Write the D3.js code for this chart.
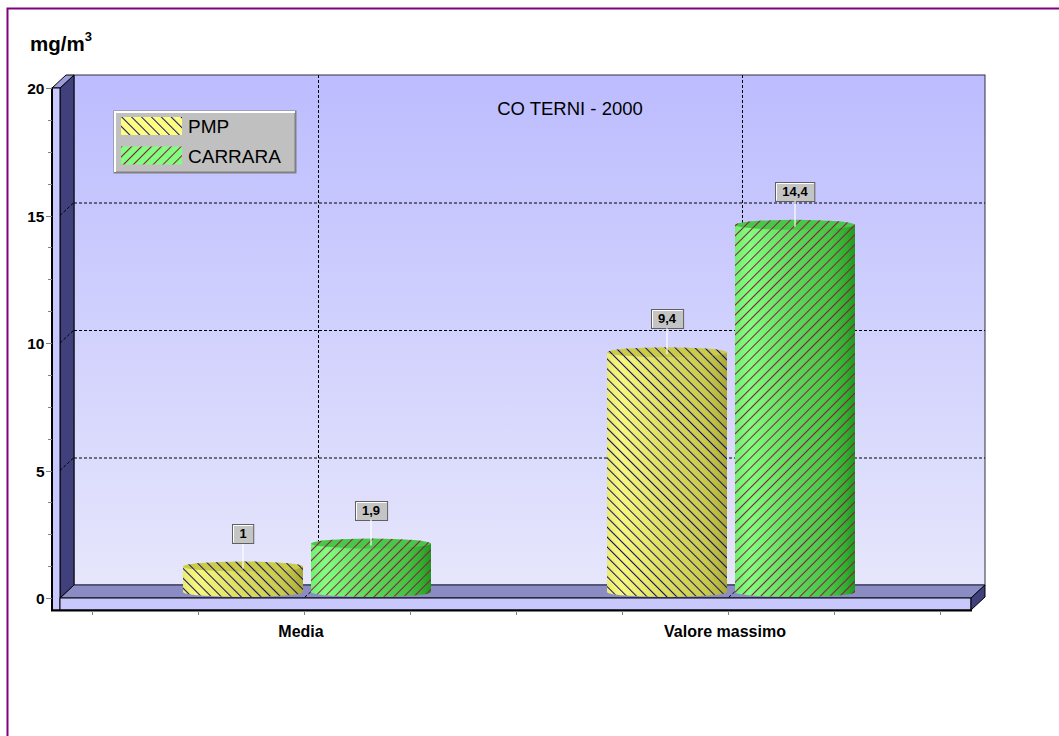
<!DOCTYPE html>
<html>
<head>
<meta charset="utf-8">
<script src="https://cdn.jsdelivr.net/npm/d3@7/dist/d3.min.js"></script>
<style>
  body { margin: 0; background: #fff; }
  svg { display: block; font-family: Arial, "Liberation Sans", sans-serif; }
</style>
</head>
<body>
<svg width="1059" height="736"></svg>
<script>
// data
var categories = ["Media", "Valore massimo"];
var seriesNames = ["PMP", "CARRARA"];
var pmpValues = [1, 9.4];
var carraraValues = [1.9, 14.4];
var yTicks = [0, 5, 10, 15, 20];
var chartTitle = "CO TERNI - 2000";

var svg = d3.select("svg");
var defs = svg.append("defs");

// 3d frame geometry
var axisX = 52, wallX = 60, plotR = 971;
var dx = 14, dy = -13;
var barDx = 3, barDy = -6, ry = 5;

var y = d3.scaleLinear().domain([0, 20]).range([598, 88]);
var x = d3.scaleBand().domain(categories).range([92, 940]);
var xs = d3.scaleBand().domain(seriesNames).range([0, 248]).paddingInner(0.0625);

var locale = d3.formatLocale({ decimal: ",", thousands: ".", grouping: [3], currency: ["", ""] });
var fmt = locale.format("~g");

var series = [
  { name: "PMP", values: pmpValues, grad: "gYellow", top: "#cccc48", hatch: "hYellow", swatch: "#ffff80" },
  { name: "CARRARA", values: carraraValues, grad: "gGreen", top: "#48c848", hatch: "hGreen", swatch: "#80ff80" }
];

// gradients
var wallGrad = defs.append("linearGradient").attr("id", "gWall")
  .attr("x1", 0).attr("y1", 0).attr("x2", 0).attr("y2", 1);
wallGrad.append("stop").attr("offset", "0%").attr("stop-color", "#bcbcff");
wallGrad.append("stop").attr("offset", "100%").attr("stop-color", "#e6e6fc");

function hGrad(id, stops) {
  var g = defs.append("linearGradient").attr("id", id)
    .attr("x1", 0).attr("y1", 0).attr("x2", 1).attr("y2", 0);
  stops.forEach(function (s) {
    g.append("stop").attr("offset", s[0]).attr("stop-color", s[1]);
  });
}
hGrad("gYellow", [["0%", "#ecec70"], ["12%", "#f8f87c"], ["45%", "#e0e060"], ["80%", "#cccc4c"], ["92%", "#bcbc40"], ["100%", "#a8a830"]]);
hGrad("gGreen", [["0%", "#70f070"], ["12%", "#80ff80"], ["45%", "#60dc60"], ["80%", "#44c444"], ["92%", "#30b030"], ["100%", "#209820"]]);

function hatch(id, color, angle) {
  var p = defs.append("pattern").attr("id", id)
    .attr("patternUnits", "userSpaceOnUse")
    .attr("width", 7).attr("height", 7)
    .attr("patternTransform", "rotate(" + angle + ")");
  p.append("line").attr("x1", 0.5).attr("y1", 0).attr("x2", 0.5).attr("y2", 7)
    .attr("stroke", color).attr("stroke-width", 1.1);
}
hatch("hYellow", "#101070", -45);
hatch("hGreen", "#901840", 45);

// outer border
svg.append("rect").attr("x", 7.5).attr("y", 8.5).attr("width", 1080).attr("height", 760)
  .attr("fill", "none").attr("stroke", "#800080").attr("stroke-width", 2);

// back wall
var backL = wallX + dx, backR = plotR + dx, backT = y(20) + dy, backB = y(0) + dy;
svg.append("rect").attr("x", backL).attr("y", backT)
  .attr("width", backR - backL).attr("height", backB - backT)
  .attr("fill", "url(#gWall)").attr("stroke", "#303040");

var grid = svg.append("g").attr("stroke", "#000").attr("stroke-dasharray", "3,2").attr("stroke-width", 1);
grid.selectAll(".hg").data(yTicks.filter(function (d) { return d > 0 && d < 20; }))
  .enter().append("line")
  .attr("x1", backL).attr("x2", backR)
  .attr("y1", function (d) { return y(d) + dy + 0.5; })
  .attr("y2", function (d) { return y(d) + dy + 0.5; });
grid.selectAll(".vg").data(categories).enter().append("line")
  .attr("x1", function (d) { return x(d) + x.bandwidth() / 2 + dx + 0.5; })
  .attr("x2", function (d) { return x(d) + x.bandwidth() / 2 + dx + 0.5; })
  .attr("y1", backT).attr("y2", backB);

// floor top
svg.append("polygon")
  .attr("points", [[wallX, y(0)], [backL, backB], [backR, backB], [plotR, y(0)]].join(" "))
  .attr("fill", "#8c8cc4").attr("stroke", "#202040");
svg.append("g").attr("stroke", "#000").attr("stroke-dasharray", "3,2")
  .selectAll("line").data(categories).enter().append("line")
  .attr("x1", function (d) { return x(d) + x.bandwidth() / 2 + dx; })
  .attr("y1", backB)
  .attr("x2", function (d) { return x(d) + x.bandwidth() / 2; })
  .attr("y2", y(0));

// left wall
svg.append("polygon")
  .attr("points", [[wallX, y(20)], [backL, backT], [backL, backB], [wallX, y(0)]].join(" "))
  .attr("fill", "#40407c").attr("stroke", "#000");
svg.append("polygon")
  .attr("points", [[axisX, y(20)], [axisX + dx, backT], [backL, backT], [wallX, y(20)]].join(" "))
  .attr("fill", "#9c9cdc").attr("stroke", "#000");
svg.append("g").attr("stroke", "#000").attr("stroke-dasharray", "3,2")
  .selectAll("line").data(yTicks.filter(function (d) { return d > 0 && d < 20; }))
  .enter().append("line")
  .attr("x1", wallX).attr("y1", function (d) { return y(d); })
  .attr("x2", backL).attr("y2", function (d) { return y(d) + dy; });
svg.append("rect").attr("x", axisX).attr("y", y(20)).attr("width", wallX - axisX).attr("height", y(0) + 12 - y(20))
  .attr("fill", "#c8c8ff").attr("stroke", "#000");

// floor front + right side
svg.append("rect").attr("x", wallX).attr("y", y(0)).attr("width", plotR - wallX).attr("height", 12)
  .attr("fill", "#c8c8fc").attr("stroke", "#000");
svg.append("polygon")
  .attr("points", [[plotR, y(0)], [backR, backB], [backR, backB + 12], [plotR, y(0) + 12]].join(" "))
  .attr("fill", "#40407c").attr("stroke", "#000");

// axis lines
svg.append("line").attr("x1", axisX).attr("x2", axisX).attr("y1", y(20)).attr("y2", y(0) + 13)
  .attr("stroke", "#000").attr("stroke-width", 2);
svg.append("line").attr("x1", axisX - 1).attr("x2", plotR + 1).attr("y1", y(0) + 12.5).attr("y2", y(0) + 12.5)
  .attr("stroke", "#000").attr("stroke-width", 2);

// y ticks
var minor = d3.range(0, 20.01, 1.25).filter(function (d) { return d % 5 !== 0; });
svg.append("g").selectAll("line").data(minor).enter().append("line")
  .attr("x1", axisX - 4).attr("x2", axisX)
  .attr("y1", function (d) { return Math.round(y(d)) + 0.5; })
  .attr("y2", function (d) { return Math.round(y(d)) + 0.5; })
  .attr("stroke", "#808080");
var yt = svg.append("g").selectAll("g").data(yTicks).enter().append("g")
  .attr("transform", function (d) { return "translate(0," + Math.round(y(d)) + ")"; });
yt.append("line").attr("x1", axisX - 6).attr("x2", axisX).attr("y1", 0.5).attr("y2", 0.5).attr("stroke", "#808080");
yt.append("text").attr("x", 44.5).attr("y", 6).attr("text-anchor", "end")
  .attr("font-size", 15.5).attr("font-weight", "bold").text(function (d) { return d; });

// x ticks
var xTickPos = [];
categories.forEach(function (c, i) {
  d3.range(i === 0 ? 0 : 1, 5).forEach(function (k) { xTickPos.push(x(c) + k * x.bandwidth() / 4); });
});
svg.append("g").selectAll("line").data(xTickPos).enter().append("line")
  .attr("x1", function (d) { return Math.round(d) + 0.5; })
  .attr("x2", function (d) { return Math.round(d) + 0.5; })
  .attr("y1", y(0) + 13).attr("y2", y(0) + 17).attr("stroke", "#808080");
svg.append("g").selectAll("text").data(categories).enter().append("text")
  .attr("x", function (d) { return x(d) + x.bandwidth() / 2 - 3; })
  .attr("y", 637).attr("text-anchor", "middle")
  .attr("font-size", 16).attr("font-weight", "bold").text(function (d) { return d; });

// cylinders
var bars = [];
series.forEach(function (s) {
  categories.forEach(function (c, i) {
    bars.push({ s: s, cat: c, v: s.values[i] });
  });
});
var bw = xs.bandwidth(), rx = bw / 2;
var barG = svg.append("g");
bars.forEach(function (b) {
  var left = x(b.cat) + x.bandwidth() / 2 - xs.range()[1] / 2 + barDx + xs(b.s.name);
  var right = left + bw;
  var bottom = y(0) + barDy, top = y(b.v) + barDy;
  b.cx = left + rx; b.top = top;
  var body = "M" + left + "," + top + "L" + left + "," + bottom +
    "A" + rx + "," + ry + " 0 0 0 " + right + "," + bottom +
    "L" + right + "," + top + "Z";
  barG.append("path").attr("d", body).attr("fill", "url(#" + b.s.grad + ")");
  barG.append("path").attr("d", body).attr("fill", "url(#" + b.s.hatch + ")");
  barG.append("ellipse").attr("cx", left + rx).attr("cy", top).attr("rx", rx).attr("ry", ry)
    .attr("fill", b.s.top);
  barG.append("ellipse").attr("cx", left + rx).attr("cy", top).attr("rx", rx).attr("ry", ry)
    .attr("fill", "url(#" + b.s.hatch + ")");
});

// value labels
var lab = svg.append("g");
bars.forEach(function (b) {
  var boxB = b.top - 24, boxH = 19;
  lab.append("line").attr("x1", b.cx).attr("x2", b.cx).attr("y1", boxB).attr("y2", b.top + 2)
    .attr("stroke", "#fff").attr("stroke-width", 1.2);
  var t = lab.append("text").attr("x", b.cx).attr("y", boxB - 5).attr("text-anchor", "middle")
    .attr("font-size", 13).attr("font-weight", "bold").text(fmt(b.v));
  var w = t.node().getComputedTextLength() + 14;
  var bx = Math.round(b.cx - w / 2) + 0.5, by = Math.round(boxB - boxH) + 0.5;
  lab.insert("rect", "text").attr("x", bx).attr("y", by).attr("width", w).attr("height", boxH)
    .attr("fill", "#c4c4c4").attr("stroke", "#606060");
  lab.insert("path", "text").attr("d", "M" + (bx + 1) + "," + (by + boxH - 1) + "V" + (by + 1) + "H" + (bx + w - 1))
    .attr("fill", "none").attr("stroke", "#fff");
  t.raise();
});

// title
svg.append("text").attr("x", 570).attr("y", 115).attr("text-anchor", "middle")
  .attr("font-size", 18.5).text(chartTitle);

// unit
var unit = svg.append("text").attr("x", 30).attr("y", 51).attr("font-size", 20.5).attr("font-weight", "bold");
unit.append("tspan").text("mg/m");
unit.append("tspan").attr("font-size", 13).attr("dy", -10).text("3");

// legend
var leg = svg.append("g").attr("transform", "translate(114,111)");
leg.append("rect").attr("x", 0.5).attr("y", 0.5).attr("width", 181).attr("height", 61)
  .attr("fill", "#c0c0c0").attr("stroke", "#808080").attr("stroke-width", 2);
leg.append("path").attr("d", "M1,61V1H181").attr("fill", "none").attr("stroke", "#fff").attr("stroke-width", 2);
var li = leg.selectAll(".li").data(series).enter().append("g")
  .attr("transform", function (d, i) { return "translate(7," + (6 + i * 29.5) + ")"; });
li.append("rect").attr("width", 61).attr("height", 18).attr("fill", function (d) { return d.swatch; });
li.append("rect").attr("width", 61).attr("height", 18).attr("fill", function (d) { return "url(#" + d.hatch + ")"; });
li.append("text").attr("x", 67).attr("y", 16).attr("font-size", 19).text(function (d) { return d.name; });
</script>
</body>
</html>
